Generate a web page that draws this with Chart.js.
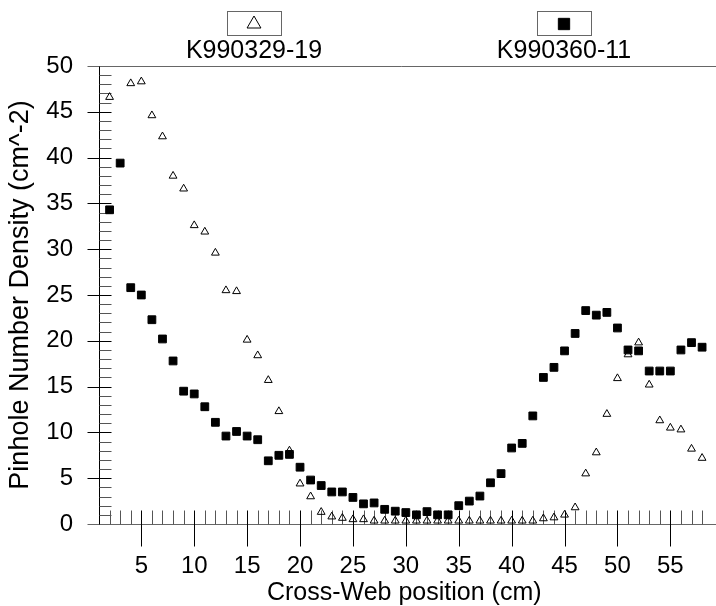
<!DOCTYPE html>
<html>
<head>
<meta charset="utf-8">
<script src="https://cdn.jsdelivr.net/npm/chart.js@4.4.1/dist/chart.umd.min.js"></script>
<style>
  html, body { margin: 0; padding: 0; background: #fff; overflow: hidden; }
  #wrap { width: 716px; height: 606px; }
</style>
</head>
<body>
<div id="wrap"><canvas id="chart" width="716" height="606"></canvas></div>
<script>
// cross-web positions (cm)
const triX = [2, 4, 5, 6, 7, 8, 9, 10, 11, 12, 13, 14, 15, 16, 17, 18, 19, 20, 21, 22, 23, 24, 25, 26,
  27, 28, 29, 30, 31, 32, 33, 34, 35, 36, 37, 38, 39, 40, 41, 42, 43, 44, 45, 46, 47, 48, 49, 50,
  51, 52, 53, 54, 55, 56, 57, 58];
const triY = [46.6, 48.1, 48.3, 44.6, 42.3, 38.0, 36.6, 32.6, 31.9, 29.6, 25.5, 25.4, 20.1, 18.4, 15.7, 12.3, 8.0, 4.4, 3.0, 1.3, 0.8, 0.65, 0.5, 0.5,
  0.35, 0.35, 0.35, 0.35, 0.35, 0.35, 0.35, 0.35, 0.35, 0.35, 0.35, 0.35, 0.35, 0.35, 0.35, 0.35, 0.6, 0.7, 1.0, 1.8, 5.5, 7.8, 12.0, 15.9,
  18.5, 19.8, 15.2, 11.3, 10.5, 10.3, 8.2, 7.2];

const sqX = [2, 3, 4, 5, 6, 7, 8, 9, 10, 11, 12, 13, 14, 15, 16, 17, 18, 19, 20, 21, 22, 23, 24, 25, 26,
  27, 28, 29, 30, 31, 32, 33, 34, 35, 36, 37, 38, 39, 40, 41, 42, 43, 44, 45, 46, 47, 48, 49, 50,
  51, 52, 53, 54, 55, 56, 57, 58];
const sqY = [34.3, 39.4, 25.8, 25.0, 22.3, 20.2, 17.8, 14.5, 14.2, 12.8, 11.1, 9.6, 10.1, 9.6, 9.2, 6.9, 7.5, 7.6, 6.2, 4.8, 4.2, 3.5, 3.5, 2.9, 2.2,
  2.3, 1.6, 1.4, 1.25, 1.0, 1.35, 1.0, 1.0, 2.0, 2.5, 3.05, 4.5, 5.5, 8.3, 8.8, 11.8, 16.0, 17.1, 18.9, 20.8, 23.3, 22.8, 23.1, 21.4,
  19.0, 18.9, 16.7, 16.7, 16.7, 19.0, 19.8, 19.3];

const seriesNames = ['K990329-19', 'K990360-11'];
const xTicks = [5, 10, 15, 20, 25, 30, 35, 40, 45, 50, 55];

const FONT = 'Liberation Sans, Arial, sans-serif';
Chart.defaults.font.family = FONT;
Chart.defaults.color = '#000';

function pts(xs, ys) {
  return xs.map((x, i) => ({ x: x, y: ys[i] }));
}

// axis frame, inward/outward ticks, titles and the boxed legend
const decor = {
  id: 'decor',
  beforeDatasetsDraw(chart) {
    const ctx = chart.ctx;
    const xs = chart.scales.x, ys = chart.scales.y;
    const left = xs.left, right = chart.width;
    const y0 = Math.round(ys.getPixelForValue(0)) + 0.5;
    const y50 = Math.round(ys.getPixelForValue(50)) + 0.5;
    const ax = Math.round(left) + 0.5;
    ctx.save();
    ctx.lineWidth = 1;
    // horizontal lines at 0 and 50
    ctx.strokeStyle = '#666';
    ctx.beginPath();
    ctx.moveTo(ax - 12, y0); ctx.lineTo(right, y0);
    ctx.moveTo(ax - 12, y50); ctx.lineTo(right, y50);
    ctx.stroke();
    // y axis line
    ctx.strokeStyle = '#000';
    ctx.beginPath();
    ctx.moveTo(ax, y50); ctx.lineTo(ax, y0);
    ctx.stroke();
    // y ticks
    for (let v = 1; v < 50; v++) {
      const py = Math.round(ys.getPixelForValue(v)) + 0.5;
      ctx.strokeStyle = v % 5 === 0 ? '#000' : '#555';
      ctx.beginPath();
      ctx.moveTo(v % 5 === 0 ? ax - 12 : ax, py);
      ctx.lineTo(ax + 12, py);
      ctx.stroke();
    }
    // x ticks
    for (let v = 2; v <= 58; v++) {
      const px = Math.round(xs.getPixelForValue(v)) + 0.5;
      const major = v % 5 === 0;
      ctx.strokeStyle = major ? '#000' : '#555';
      ctx.beginPath();
      ctx.moveTo(px, y0 - 14);
      ctx.lineTo(px, major ? y0 + 22 : y0);
      ctx.stroke();
    }
    ctx.restore();
  },
  afterDraw(chart) {
    const ctx = chart.ctx;
    const area = chart.chartArea;
    ctx.save();
    ctx.fillStyle = '#000';
    ctx.font = '25px ' + FONT;
    ctx.textAlign = 'center';
    ctx.textBaseline = 'middle';
    // x title
    ctx.fillText('Cross-Web position (cm)', (area.left + area.right) / 2, 593);
    // y title
    ctx.save();
    ctx.font = '27px ' + FONT;
    ctx.translate(21, (area.top + area.bottom) / 2);
    ctx.rotate(-Math.PI / 2);
    ctx.fillText('Pinhole Number Density (cm^-2)', 0, 0);
    ctx.restore();
    // legend: box with marker above each name
    const centers = [254, 564];
    chart.data.datasets.forEach((ds, i) => {
      const cx = centers[i];
      ctx.strokeStyle = '#666';
      ctx.lineWidth = 1;
      ctx.strokeRect(cx - 27 + 0.5, 11.5, 54, 24);
      ctx.fillStyle = ds.backgroundColor;
      ctx.strokeStyle = '#000';
      Chart.helpers.drawPoint(ctx, {
        pointStyle: ds.pointStyle,
        radius: ds.pointStyle === 'triangle' ? 8 : 8,
        rotation: 0,
        borderWidth: 1
      }, cx, 24);
      ctx.fillStyle = '#000';
      ctx.fillText(ds.label, cx, 51);
    });
    ctx.restore();
  }
};

new Chart(document.getElementById('chart'), {
  type: 'scatter',
  data: {
    datasets: [{
      label: seriesNames[0],
      data: pts(triX, triY),
      pointStyle: 'triangle',
      pointRadius: 4.5,
      borderWidth: 1,
      borderColor: '#000',
      backgroundColor: 'rgba(0,0,0,0)'
    }, {
      label: seriesNames[1],
      data: pts(sqX, sqY),
      pointStyle: 'rect',
      pointRadius: 5.5,
      borderWidth: 1,
      borderColor: '#000',
      backgroundColor: '#000'
    }]
  },
  options: {
    responsive: false,
    animation: false,
    layout: { padding: { top: 66, right: 0, left: 0, bottom: 0 } },
    plugins: {
      legend: { display: false },
      tooltip: { enabled: false }
    },
    scales: {
      x: {
        type: 'linear',
        min: 1,
        max: 58.7,
        grid: { display: false, drawTicks: false },
        border: { display: false },
        afterBuildTicks: s => { s.ticks = xTicks.map(v => ({ value: v })); },
        afterFit: s => { s.height = 82; },
        ticks: { font: { size: 24 }, padding: 28, maxRotation: 0, autoSkip: false }
      },
      y: {
        min: 0,
        max: 50,
        grid: { display: false, drawTicks: false },
        border: { display: false },
        afterFit: s => { s.width = 99; },
        ticks: { stepSize: 5, font: { size: 24 }, padding: 26 }
      }
    }
  },
  plugins: [decor]
});
</script>
</body>
</html>
